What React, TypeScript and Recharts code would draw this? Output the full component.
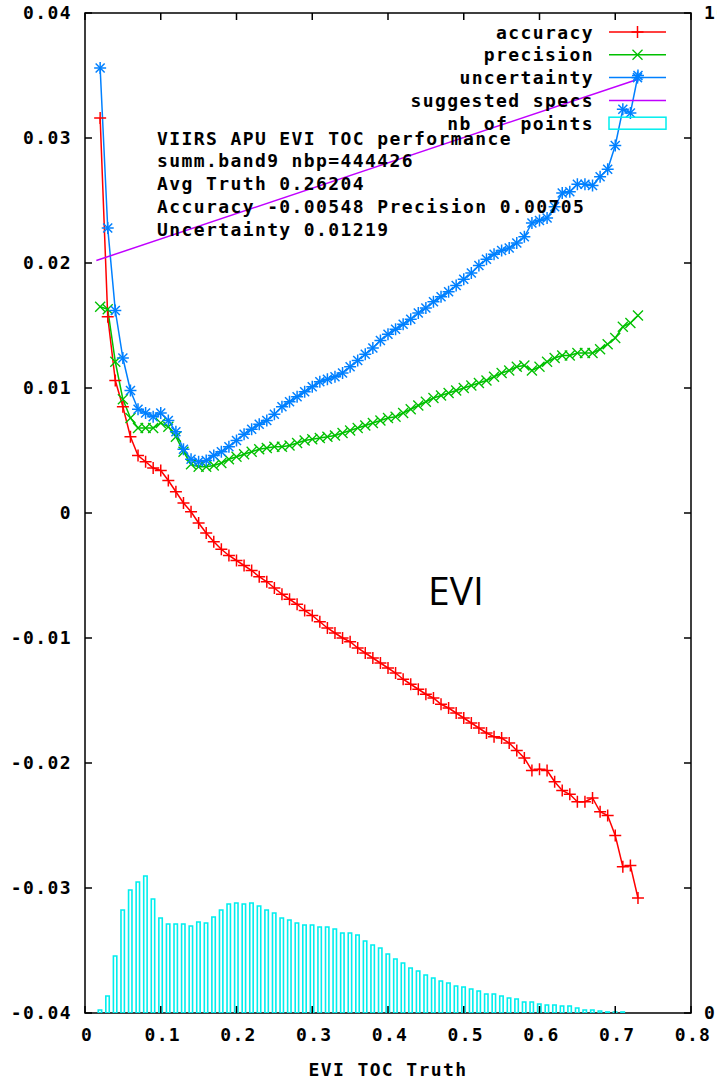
import React from "react";
import { ComposedChart, Line, Bar, XAxis, YAxis, ReferenceArea } from "recharts";

const X_VALUES = [
  0.02, 0.03, 0.04, 0.05, 0.06, 0.07, 0.08, 0.09, 0.1, 0.11,
  0.12, 0.13, 0.14, 0.15, 0.16, 0.17, 0.18, 0.19, 0.2, 0.21,
  0.22, 0.23, 0.24, 0.25, 0.26, 0.27, 0.28, 0.29, 0.3, 0.31,
  0.32, 0.33, 0.34, 0.35, 0.36, 0.37, 0.38, 0.39, 0.4, 0.41,
  0.42, 0.43, 0.44, 0.45, 0.46, 0.47, 0.48, 0.49, 0.5, 0.51,
  0.52, 0.53, 0.54, 0.55, 0.56, 0.57, 0.58, 0.59, 0.6, 0.61,
  0.62, 0.63, 0.64, 0.65, 0.66, 0.67, 0.68, 0.69, 0.7, 0.71,
  0.72, 0.73,
];

const ACCURACY = [
  0.0316, 0.0157, 0.0106, 0.0085, 0.0061, 0.0046, 0.0041, 0.0036, 0.0034, 0.0026,
  0.0017, 0.0008, 0.0001, -0.0008, -0.0016, -0.0023, -0.0029, -0.0034, -0.0038, -0.0042,
  -0.0046, -0.0051, -0.0055, -0.006, -0.0065, -0.0069, -0.0073, -0.0078, -0.0082, -0.0087,
  -0.0092, -0.0096, -0.01, -0.0103, -0.0108, -0.0112, -0.0116, -0.012, -0.0124, -0.0128,
  -0.0133, -0.0137, -0.0141, -0.0145, -0.0148, -0.0153, -0.0156, -0.016, -0.0164, -0.0168,
  -0.0172, -0.0176, -0.0179, -0.018, -0.0184, -0.019, -0.0196, -0.0206, -0.0205, -0.0206,
  -0.0215, -0.0222, -0.0225, -0.0231, -0.0231, -0.0228, -0.0239, -0.0242, -0.0258, -0.0283,
  -0.0282, -0.0308,
];

const PRECISION = [
  0.0165, 0.0163, 0.0121, 0.0091, 0.0076, 0.0068, 0.0068, 0.0068, 0.0072, 0.0069,
  0.0061, 0.0049, 0.0039, 0.0037, 0.0037, 0.0038, 0.004, 0.0043, 0.0045, 0.0047,
  0.0049, 0.0051, 0.0052, 0.0053, 0.0053, 0.0054, 0.0056, 0.0058, 0.0059, 0.006,
  0.0061, 0.0062, 0.0064, 0.0066, 0.0068, 0.007, 0.0072, 0.0074, 0.0076, 0.0077,
  0.008, 0.0083, 0.0086, 0.0089, 0.0092, 0.0094, 0.0096, 0.0098, 0.01, 0.0102,
  0.0104, 0.0106, 0.0109, 0.0112, 0.0114, 0.0117, 0.0118, 0.0114, 0.0117, 0.0121,
  0.0124, 0.0126, 0.0126, 0.0128, 0.0128, 0.0128, 0.0131, 0.0135, 0.014, 0.0149,
  0.0152, 0.0158,
];

const UNCERTAINTY = [
  0.0356, 0.0228, 0.0162, 0.0124, 0.0098, 0.0083, 0.008, 0.0077, 0.008, 0.0074,
  0.0065, 0.0051, 0.0043, 0.0041, 0.0042, 0.0046, 0.0049, 0.0053, 0.0058, 0.0063,
  0.0067, 0.0071, 0.0074, 0.0079, 0.0085, 0.0089, 0.0093, 0.0097, 0.0101, 0.0105,
  0.0107, 0.0109, 0.0112, 0.0117, 0.0122, 0.0127, 0.0132, 0.0138, 0.0143, 0.0147,
  0.0151, 0.0155, 0.016, 0.0164, 0.0169, 0.0173, 0.0177, 0.0182, 0.0187, 0.0192,
  0.0198, 0.0203, 0.0207, 0.021, 0.0212, 0.0216, 0.0221, 0.0232, 0.0234, 0.0236,
  0.0245, 0.0256, 0.0257, 0.0263, 0.0263, 0.0262, 0.0269, 0.0275, 0.0294, 0.0323,
  0.032, 0.035,
];

const NB_POINTS = [
  300, 1700, 5700, 10300, 12300, 13100, 13700, 11400, 9500, 8900,
  8900, 8900, 8700, 9100, 9000, 9600, 10300, 10900, 11000, 10900,
  11000, 10700, 10300, 10000, 9500, 9300, 9000, 8800, 8800, 8600,
  8600, 8400, 8000, 8000, 7800, 7200, 6800, 6500, 5900, 5400,
  5000, 4500, 4200, 3800, 3500, 3200, 3000, 2700, 2600, 2400,
  2200, 1900, 1900, 1700, 1500, 1400, 1100, 1100, 900, 800,
  800, 700, 700, 500, 300, 300, 200, 100, 100, 100,
];

const SPEC_X = [0.015, 0.73];
const SPEC_Y = [0.0202, 0.0347];

const X_TICKS = [0, 0.1, 0.2, 0.3, 0.4, 0.5, 0.6, 0.7, 0.8];
const Y_TICKS = [-0.04, -0.03, -0.02, -0.01, 0, 0.01, 0.02, 0.03, 0.04];
const Y2_TICKS = [0, 100000];

const LEGEND_LABELS = ["accuracy", "precision", "uncertainty", "suggested specs", "nb of points"];
const INFO_LINES = [
  "VIIRS APU EVI TOC performance",
  "summ.band9 nbp=444426",
  "Avg Truth 0.26204",
  "Accuracy -0.00548 Precision 0.00705",
  "Uncertainty 0.01219",
];

const RED = "#ff0000";
const GREEN = "#00c000";
const BLUE = "#0080ff";
const PURPLE = "#c000ff";
const CYAN = "#00eeee";

const FONT = "'DejaVu Sans Mono', 'Liberation Mono', monospace";
const TICK_LEN = 7;

const CHART_W = 717;
const CHART_H = 1080;
const MARGIN_TOP = 13;
const LEFT_W = 85;
const RIGHT_W = 26;
const BOTTOM_H = 67;
const PLOT_TOP = MARGIN_TOP;
const PLOT_RIGHT = CHART_W - RIGHT_W;

const rows = X_VALUES.map((x, i) => ({
  x,
  acc: ACCURACY[i],
  prec: PRECISION[i],
  unc: UNCERTAINTY[i],
  hist: i < NB_POINTS.length ? NB_POINTS[i] : null,
}));

const specRows = SPEC_X.map((x, i) => ({ x, spec: SPEC_Y[i] }));

function plusMark(cx: number, cy: number, color: string, k: any) {
  return (
    <g key={k}>
      <line x1={cx - 6} y1={cy} x2={cx + 6} y2={cy} stroke={color} strokeWidth={1.5} />
      <line x1={cx} y1={cy - 6} x2={cx} y2={cy + 6} stroke={color} strokeWidth={1.5} />
    </g>
  );
}
function crossMark(cx: number, cy: number, color: string, k: any) {
  return (
    <g key={k}>
      <line x1={cx - 5} y1={cy - 5} x2={cx + 5} y2={cy + 5} stroke={color} strokeWidth={1.3} />
      <line x1={cx - 5} y1={cy + 5} x2={cx + 5} y2={cy - 5} stroke={color} strokeWidth={1.3} />
    </g>
  );
}
function starMark(cx: number, cy: number, color: string, k: any) {
  return (
    <g key={k}>
      <line x1={cx - 6} y1={cy} x2={cx + 6} y2={cy} stroke={color} strokeWidth={1.5} />
      <line x1={cx} y1={cy - 6} x2={cx} y2={cy + 6} stroke={color} strokeWidth={1.5} />
      <line x1={cx - 4.5} y1={cy - 4.5} x2={cx + 4.5} y2={cy + 4.5} stroke={color} strokeWidth={1.5} />
      <line x1={cx - 4.5} y1={cy + 4.5} x2={cx + 4.5} y2={cy - 4.5} stroke={color} strokeWidth={1.5} />
    </g>
  );
}

const dotFn = (kind: string, color: string) => (p: any) => {
  const k = `${kind}-${p.index}`;
  if (p.cx == null || p.cy == null || isNaN(p.cx) || isNaN(p.cy)) return <g key={k} />;
  if (kind === "plus") return plusMark(p.cx, p.cy, color, k);
  if (kind === "cross") return crossMark(p.cx, p.cy, color, k);
  return starMark(p.cx, p.cy, color, k);
};

const textStyle = { fontFamily: FONT, fontWeight: 700, fontSize: 18, letterSpacing: 1.4 };

const fmtX = (v: number) => (v === 0 ? "0" : v.toFixed(1));
const fmtY = (v: number) => (v === 0 ? "0" : v.toFixed(2));

// bottom axis: label below, tick pointing up into the plot, plus mirrored tick at top
const BottomTick = (p: any) => {
  const v = p.payload.value;
  const axisY = p.y - 13;
  return (
    <g>
      <line x1={p.x} y1={axisY} x2={p.x} y2={axisY - TICK_LEN} stroke="#000" strokeWidth={1.5} />
      <line x1={p.x} y1={PLOT_TOP} x2={p.x} y2={PLOT_TOP + TICK_LEN} stroke="#000" strokeWidth={1.5} />
      <text x={p.x + 2} y={p.y + 2} dy="0.71em" textAnchor="middle" fill="#000" style={textStyle}>
        {fmtX(v)}
      </text>
    </g>
  );
};

// left axis: label at left, tick pointing right into the plot, plus mirrored tick at right
const LeftTick = (p: any) => {
  const v = p.payload.value;
  const axisX = p.x + 13;
  return (
    <g>
      <line x1={axisX} y1={p.y} x2={axisX + TICK_LEN} y2={p.y} stroke="#000" strokeWidth={1.5} />
      <line x1={PLOT_RIGHT} y1={p.y} x2={PLOT_RIGHT - TICK_LEN} y2={p.y} stroke="#000" strokeWidth={1.5} />
      <text x={p.x} y={p.y} dy="0.36em" textAnchor="end" fill="#000" style={textStyle}>
        {fmtY(v)}
      </text>
    </g>
  );
};

export default function App() {
  return (
    <div style={{ position: "absolute", left: 0, top: 0, width: CHART_W, height: CHART_H, background: "#fff" }}>
      <ComposedChart
        width={CHART_W}
        height={CHART_H}
        data={rows}
        margin={{ top: MARGIN_TOP, right: 0, bottom: 0, left: 0 }}
        barCategoryGap={0}
        barGap={0}
      >
        <XAxis
          xAxisId="b"
          dataKey="x"
          type="number"
          domain={[0, 0.8]}
          ticks={X_TICKS}
          allowDataOverflow
          height={BOTTOM_H}
          axisLine={false}
          tickLine={false}
          tickSize={0}
          tickMargin={13}
          tick={<BottomTick />}
          label={{ value: "EVI TOC Truth", position: "insideBottom", offset: 4, style: { ...textStyle, fill: "#000", textAnchor: "middle" } }}
        />
        <YAxis
          yAxisId="l"
          type="number"
          domain={[-0.04, 0.04]}
          ticks={Y_TICKS}
          allowDataOverflow
          width={LEFT_W}
          axisLine={false}
          tickLine={false}
          tickSize={0}
          tickMargin={13}
          tick={<LeftTick />}
        />
        <YAxis
          yAxisId="h"
          orientation="right"
          type="number"
          domain={[0, 100000]}
          ticks={Y2_TICKS}
          allowDataOverflow
          width={RIGHT_W}
          axisLine={false}
          tickLine={false}
          tickSize={0}
          tickMargin={13}
          tick={{ ...textStyle, fill: "#000" }}
        />
        <ReferenceArea
          xAxisId="b"
          yAxisId="l"
          x1={0}
          x2={0.8}
          y1={-0.04}
          y2={0.04}
          fill="none"
          fillOpacity={0}
          stroke="#000"
          strokeWidth={1.5}
          strokeOpacity={1}
        />
        <Line
          xAxisId="b"
          yAxisId="l"
          dataKey="acc"
          stroke={RED}
          strokeWidth={1.5}
          dot={dotFn("plus", RED)}
          isAnimationActive={false}
        />
        <Line
          xAxisId="b"
          yAxisId="l"
          dataKey="prec"
          stroke={GREEN}
          strokeWidth={1.5}
          dot={dotFn("cross", GREEN)}
          isAnimationActive={false}
        />
        <Line
          xAxisId="b"
          yAxisId="l"
          dataKey="unc"
          stroke={BLUE}
          strokeWidth={1.5}
          dot={dotFn("star", BLUE)}
          isAnimationActive={false}
        />
        <Line
          xAxisId="b"
          yAxisId="l"
          data={specRows}
          dataKey="spec"
          stroke={PURPLE}
          strokeWidth={1.5}
          dot={false}
          isAnimationActive={false}
        />
        <Bar
          xAxisId="b"
          yAxisId="h"
          dataKey="hist"
          fill="none"
          stroke={CYAN}
          strokeWidth={1.6}
          barSize={8}
          isAnimationActive={false}
        />
      </ComposedChart>
      <svg
        width={CHART_W}
        height={CHART_H}
        style={{ position: "absolute", left: 0, top: 0, pointerEvents: "none" }}
      >
        {LEGEND_LABELS.map((lab, i) => {
          const y = 32 + i * 22.8;
          const colors = [RED, GREEN, BLUE, PURPLE, CYAN];
          return (
            <g key={lab}>
              <text x={594} y={y} textAnchor="end" dominantBaseline="central" style={textStyle} fill="#000">
                {lab}
              </text>
              {i < 4 ? (
                <line x1={609} y1={y} x2={666} y2={y} stroke={colors[i]} strokeWidth={1.5} />
              ) : (
                <rect x={609} y={y - 6} width={57} height={12} fill="none" stroke={CYAN} strokeWidth={1.5} />
              )}
              {i === 0 && plusMark(637.5, y, RED, "lp")}
              {i === 1 && crossMark(637.5, y, GREEN, "lc")}
              {i === 2 && starMark(637.5, y, BLUE, "ls")}
            </g>
          );
        })}
        {INFO_LINES.map((t, i) => (
          <text key={t} x={157} y={138 + i * 22.8} dominantBaseline="central" style={textStyle} fill="#000">
            {t}
          </text>
        ))}
        <text x={428} y={605} style={{ fontFamily: "'Open Sans', 'Noto Sans', sans-serif", fontSize: 39 }} fill="#000">
          EVI
        </text>
      </svg>
    </div>
  );
}
